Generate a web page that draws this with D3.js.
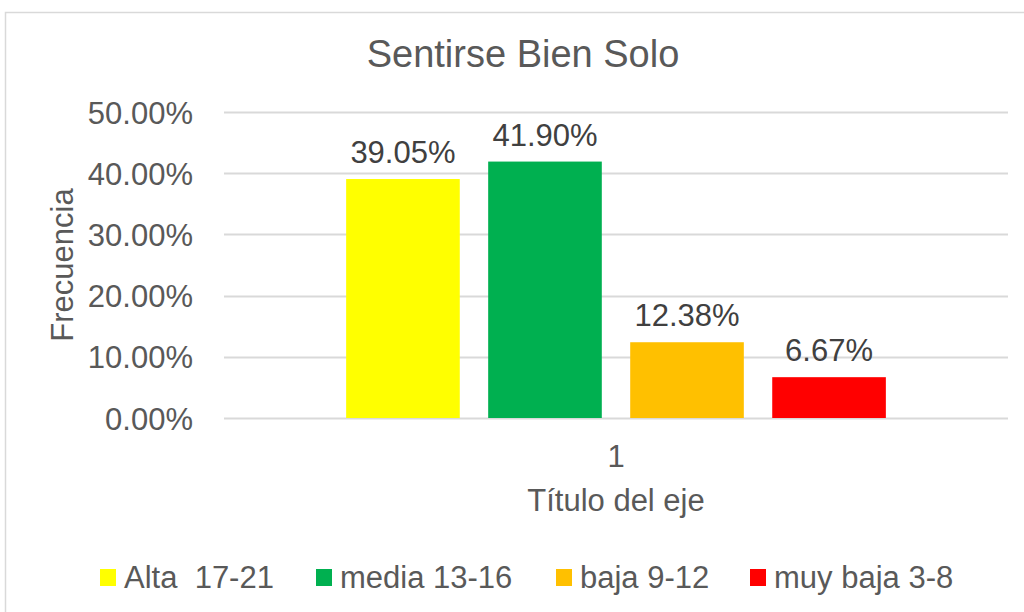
<!DOCTYPE html>
<html>
<head>
<meta charset="utf-8">
<script src="https://cdn.jsdelivr.net/npm/d3@7"></script>
<style>
  body { margin: 0; background: #fff; }
  text { font-family: "Liberation Sans", Arial, sans-serif; fill: #595959; }
</style>
</head>
<body>
<div id="chart-area"></div>
<script>
// data
var categories = ["1"];
var seriesNames = ["Alta  17-21", "media 13-16", "baja 9-12", "muy baja 3-8"];
var seriesValues = [0.3905, 0.4190, 0.1238, 0.0667];
var seriesColors = ["#FFFF00", "#00B050", "#FFC000", "#FF0000"];
var yTicks = [0, 0.1, 0.2, 0.3, 0.4, 0.5];

var margin = {left: 224, right: 16, top: 112, bottom: 194};
var width = 1024 - margin.left - margin.right;
var height = 612 - margin.top - margin.bottom;

var svg = d3.select("#chart-area").append("svg")
    .attr("width", 1024)
    .attr("height", 612);

// chart frame
svg.append("rect")
    .attr("x", 5.5)
    .attr("y", 12.5)
    .attr("width", 1040)
    .attr("height", 640)
    .attr("fill", "none")
    .attr("stroke", "#d9d9d9")
    .attr("stroke-width", 1.5);

svg.append("text")
    .attr("x", 523)
    .attr("y", 67)
    .attr("text-anchor", "middle")
    .attr("font-size", "38px")
    .text("Sentirse Bien Solo");

var g = svg.append("g")
    .attr("transform", "translate(" + margin.left + "," + margin.top + ")");

var y = d3.scaleLinear()
    .domain([0, 0.5])
    .range([height, 0]);

var x0 = d3.scaleBand()
    .domain(categories)
    .range([0, width]);

var x1 = d3.scaleBand()
    .domain(seriesNames)
    .range([0, x0.bandwidth()])
    .paddingInner(0.2)
    .paddingOuter(0.86);

// gridlines
g.selectAll(".grid")
    .data(yTicks)
    .enter()
    .append("line")
    .attr("class", "grid")
    .attr("x1", 0)
    .attr("x2", width)
    .attr("y1", function(d){ return Math.round(y(d)) + 0.5; })
    .attr("y2", function(d){ return Math.round(y(d)) + 0.5; })
    .attr("stroke", "#d9d9d9")
    .attr("stroke-width", 2);

// y tick labels
var yAxisCall = d3.axisLeft(y)
    .tickValues(yTicks)
    .tickSize(0)
    .tickPadding(31)
    .tickFormat(function(d){ return (d * 100).toFixed(2) + "%"; });

var yAxis = g.append("g")
    .attr("class", "y axis")
    .call(yAxisCall);
yAxis.select(".domain").remove();
yAxis.selectAll("text")
    .attr("font-size", "31px")
    .attr("font-family", "Liberation Sans, Arial, sans-serif")
    .attr("fill", "#595959")
    .attr("dy", "0.36em");

// x tick labels
var xAxisCall = d3.axisBottom(x0).tickSize(0).tickPadding(27);
var xAxis = g.append("g")
    .attr("class", "x axis")
    .attr("transform", "translate(0," + height + ")")
    .call(xAxisCall);
xAxis.select(".domain").remove();
xAxis.selectAll("text")
    .attr("font-size", "31px")
    .attr("font-family", "Liberation Sans, Arial, sans-serif")
    .attr("fill", "#595959");

// bars
g.selectAll(".bar")
    .data(seriesValues)
    .enter()
    .append("rect")
    .attr("class", "bar")
    .attr("x", function(d, i){ return x0(categories[0]) + x1(seriesNames[i]); })
    .attr("y", function(d){ return y(d); })
    .attr("width", x1.bandwidth())
    .attr("height", function(d){ return height - y(d); })
    .attr("fill", function(d, i){ return seriesColors[i]; });

// data labels
g.selectAll(".label")
    .data(seriesValues)
    .enter()
    .append("text")
    .attr("class", "label")
    .attr("x", function(d, i){ return x0(categories[0]) + x1(seriesNames[i]) + x1.bandwidth() / 2; })
    .attr("y", function(d){ return y(d) - 16; })
    .attr("text-anchor", "middle")
    .attr("font-size", "31px")
    .style("fill", "#404040")
    .text(function(d){ return (d * 100).toFixed(2) + "%"; });

// axis titles
svg.append("text")
    .attr("x", margin.left + width / 2)
    .attr("y", 511)
    .attr("text-anchor", "middle")
    .attr("font-size", "31px")
    .text("Título del eje");

svg.append("text")
    .attr("transform", "translate(73,265) rotate(-90)")
    .attr("text-anchor", "middle")
    .attr("font-size", "31px")
    .text("Frecuencia");

// legend
var legendX = [100, 316, 556, 750];
var legend = svg.selectAll(".legend")
    .data(seriesNames)
    .enter()
    .append("g")
    .attr("class", "legend")
    .attr("transform", function(d, i){ return "translate(" + legendX[i] + ",569)"; });

legend.append("rect")
    .attr("width", 16)
    .attr("height", 17)
    .attr("fill", function(d, i){ return seriesColors[i]; });

legend.append("text")
    .attr("x", 24)
    .attr("y", 19)
    .attr("font-size", "31px")
    .style("white-space", "pre")
    .attr("xml:space", "preserve")
    .text(function(d){ return d; });
</script>
</body>
</html>
